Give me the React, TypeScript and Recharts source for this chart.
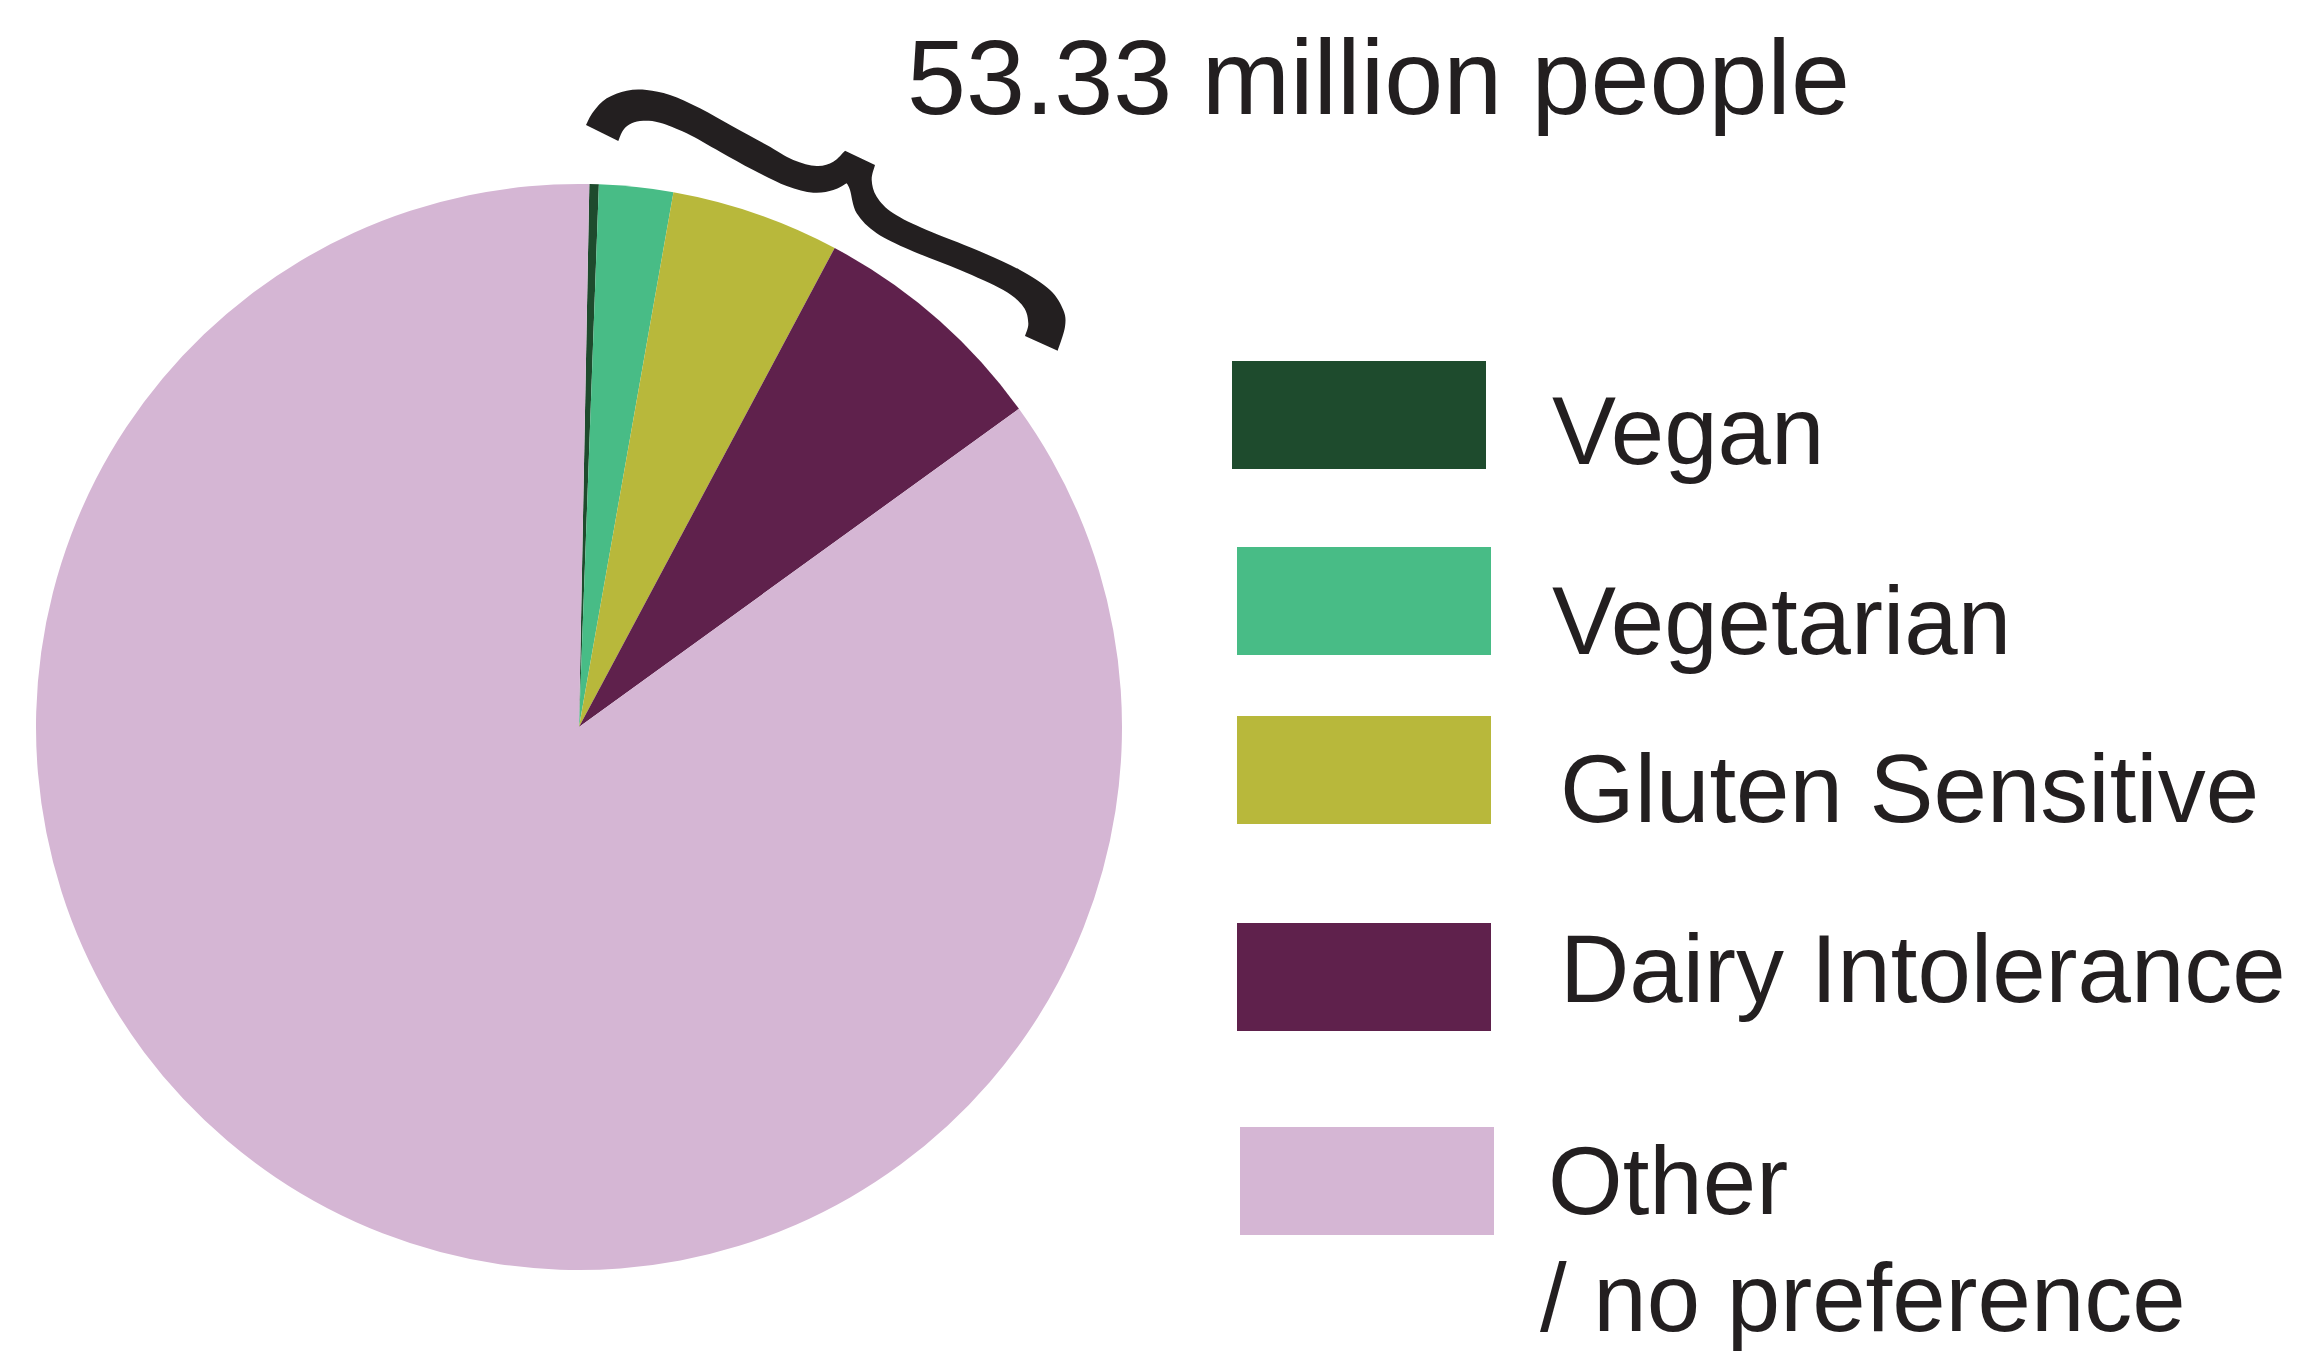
import React from "react";
import { PieChart, Pie, Cell, Legend } from "recharts";

const W = 2297;
const H = 1354;
const FONT = "'Liberation Sans', Arial, Helvetica, sans-serif";
const INK = "#231f20";

// datos (porcentaje de la población)
const categories = [
  "Vegan",
  "Vegetarian",
  "Gluten Sensitive",
  "Dairy Intolerance",
  "Other / no preference",
];
const shares = [0.28, 2.2, 5.02, 7.23, 85.27];
const colors = ["#1e4b2d", "#48bc86", "#b8b83b", "#5f214c", "#d5b6d4"];
const legendLines = [
  ["Vegan"],
  ["Vegetarian"],
  ["Gluten Sensitive"],
  ["Dairy Intolerance"],
  ["Other", "/ no preference"],
];
const annotation = "53.33 million people";

const data = categories.map((name, i) => ({ name, value: shares[i] }));

// posición de la leyenda (solo maquetación)
const legendLayout = [
  { x: 1232, y: 361, tx: 1552, ty: 464 },
  { x: 1237, y: 547, tx: 1552, ty: 654 },
  { x: 1237, y: 716, tx: 1560, ty: 822 },
  { x: 1237, y: 923, tx: 1560, ty: 1002 },
  { x: 1240, y: 1127, tx: 1548, ty: 1214 },
];
const secondLine = { tx: 1540, ty: 1331 };

type Pt = [number, number];

// contorno de la llave (anotación)
const braceUL: Pt[] = [
  [586, 125], [593.3, 111.7], [606.7, 98.3], [626.7, 90.7], [646.7, 90],
  [670, 95], [700, 108.3], [733.3, 126.7], [766.7, 145], [793.3, 160],
  [816.7, 166], [833.3, 161.7], [845, 150.7],
];
const braceUR: Pt[] = [
  [875, 165], [871.7, 180], [876.7, 196.7], [893.3, 213.3], [926.7, 230],
  [976.7, 250], [1020, 270], [1050, 290], [1063.3, 310], [1065, 326.7],
  [1057.7, 350.7],
];
const braceLR: Pt[] = [
  [1025, 336], [1028.3, 323.3], [1023.3, 306.7], [1003.3, 290], [960, 270],
  [910, 250], [876.7, 233.3], [856.7, 213.3], [850, 190], [846.7, 183.3],
];
const braceLL: Pt[] = [
  [846.7, 183.3], [833.3, 190], [813.3, 192.7], [786.7, 186], [753.3, 170],
  [720, 151.7], [686.7, 133.3], [660, 122.7], [643.3, 120.7], [631.7, 123.3],
  [623.3, 130], [618.3, 141],
];

function smooth(pts: Pt[]) {
  let d = "";
  for (let i = 0; i < pts.length - 1; i++) {
    const p0 = pts[i - 1] || pts[i];
    const p1 = pts[i];
    const p2 = pts[i + 1];
    const p3 = pts[i + 2] || p2;
    const c1x = p1[0] + (p2[0] - p0[0]) / 6;
    const c1y = p1[1] + (p2[1] - p0[1]) / 6;
    const c2x = p2[0] - (p3[0] - p1[0]) / 6;
    const c2y = p2[1] - (p3[1] - p1[1]) / 6;
    d += ` C${c1x.toFixed(1)},${c1y.toFixed(1)} ${c2x.toFixed(1)},${c2y.toFixed(1)} ${p2[0]},${p2[1]}`;
  }
  return d;
}

const bracePath =
  `M${braceUL[0][0]},${braceUL[0][1]}` +
  smooth(braceUL) +
  ` L${braceUR[0][0]},${braceUR[0][1]}` +
  smooth(braceUR) +
  ` L${braceLR[0][0]},${braceLR[0][1]}` +
  smooth(braceLR) +
  smooth(braceLL) +
  " Z";

function LegendContent({ payload }: any) {
  const items = payload || [];
  return (
    <svg width={W} height={H} style={{ position: "absolute", left: 0, top: 0 }}>
      {categories.map((name, i) => {
        const entry = items.find((p: any) => p.value === name);
        const pos = legendLayout[i];
        const lines = legendLines[i];
        return (
          <g key={name}>
            <rect
              x={pos.x}
              y={pos.y}
              width={254}
              height={108}
              fill={entry ? entry.color : colors[i]}
            />
            <text x={pos.tx} y={pos.ty} fontSize={96} fontFamily={FONT} fill={INK}>
              {lines[0]}
            </text>
            {lines[1] && (
              <text
                x={secondLine.tx}
                y={secondLine.ty}
                fontSize={96}
                fontFamily={FONT}
                fill={INK}
              >
                {lines[1]}
              </text>
            )}
          </g>
        );
      })}
    </svg>
  );
}

export default function App() {
  return (
    <div
      style={{
        position: "absolute",
        left: 0,
        top: 0,
        width: W,
        height: H,
        background: "#fff",
      }}
    >
      <PieChart width={W} height={H} margin={{ top: 0, right: 0, bottom: 0, left: 0 }}>
        <Pie
          data={data}
          dataKey="value"
          nameKey="name"
          cx={579}
          cy={727}
          outerRadius={543}
          startAngle={88.91}
          endAngle={88.91 - 360}
          stroke="none"
          isAnimationActive={false}
        >
          {data.map((d, i) => (
            <Cell key={d.name} fill={colors[i]} />
          ))}
        </Pie>
        <Legend
          layout="horizontal"
          verticalAlign="middle"
          align="center"
          content={<LegendContent />}
          wrapperStyle={{ left: 0, top: 0, width: W, height: H, pointerEvents: "none" }}
        />
      </PieChart>
      <svg
        width={W}
        height={H}
        style={{ position: "absolute", left: 0, top: 0, pointerEvents: "none" }}
      >
        <path d={bracePath} fill={INK} />
        <text x={907} y={114} fontSize={106} fontFamily={FONT} fill={INK}>
          {annotation}
        </text>
      </svg>
    </div>
  );
}
